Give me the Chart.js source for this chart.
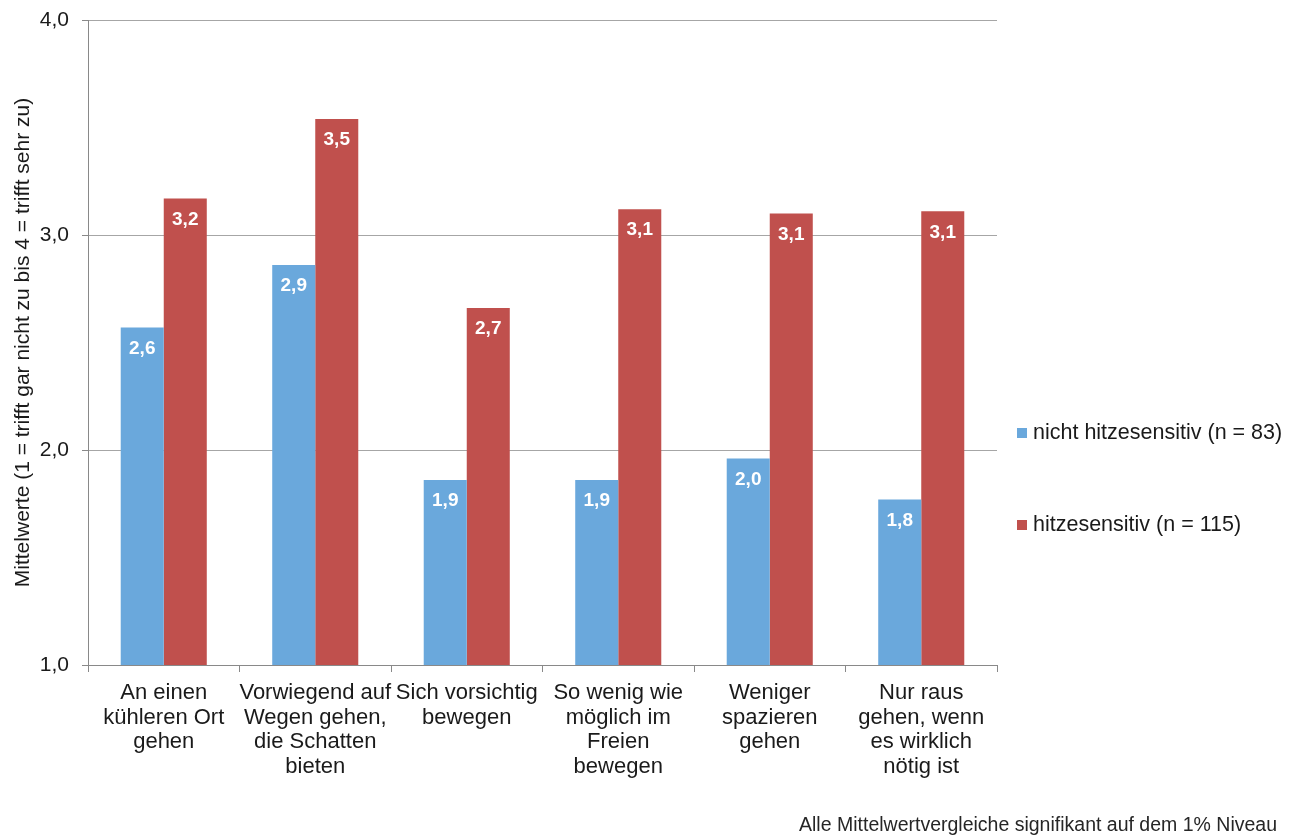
<!DOCTYPE html>
<html>
<head>
<meta charset="utf-8">
<script src="https://cdn.jsdelivr.net/npm/chart.js@4.4.0/dist/chart.umd.min.js"></script>
<style>
html,body{margin:0;padding:0;background:#fff;}
#wrap{width:1293px;height:837px;position:relative;}
</style>
</head>
<body>
<div id="wrap"><canvas id="c" width="1293" height="837"></canvas></div>
<script>
const categories = [
  ["An einen", "kühleren Ort", "gehen"],
  ["Vorwiegend auf", "Wegen gehen,", "die Schatten", "bieten"],
  ["Sich vorsichtig", "bewegen"],
  ["So wenig wie", "möglich im", "Freien", "bewegen"],
  ["Weniger", "spazieren", "gehen"],
  ["Nur raus", "gehen, wenn", "es wirklich", "nötig ist"]
];
const seriesNames = ["nicht hitzesensitiv (n = 83)", "hitzesensitiv (n = 115)"];
const nichtSensitiv = [2.57, 2.86, 1.86, 1.86, 1.96, 1.77];
const sensitiv = [3.17, 3.54, 2.66, 3.12, 3.10, 3.11];
const yTicks = [1, 2, 3, 4];
const yTitle = "Mittelwerte (1 = trifft gar nicht zu bis 4 = trifft sehr zu)";
const footnote = "Alle Mittelwertvergleiche signifikant auf dem 1% Niveau";
const colors = ["#6aa8dc", "#c0504d"];

const FONT = "'Liberation Sans', Arial, Helvetica, sans-serif";
const fmt = v => v.toFixed(1).replace('.', ',');

const extras = {
  id: 'extras',
  afterDatasetsDraw(chart) {
    const ctx = chart.ctx;
    ctx.save();
    ctx.font = "bold 19px " + FONT;
    ctx.fillStyle = "#ffffff";
    ctx.textAlign = "center";
    ctx.textBaseline = "middle";
    chart.data.datasets.forEach((ds, i) => {
      chart.getDatasetMeta(i).data.forEach((bar, j) => {
        ctx.fillText(fmt(ds.data[j]), bar.x, bar.y + 21);
      });
    });
    ctx.restore();
  },
  afterDraw(chart) {
    const ctx = chart.ctx;
    ctx.save();
    // legend
    ctx.font = "21.5px " + FONT;
    ctx.textBaseline = "middle";
    ctx.textAlign = "left";
    const ly = [433, 525];
    seriesNames.forEach((n, i) => {
      ctx.fillStyle = colors[i];
      ctx.fillRect(1017, ly[i] - 5, 10, 10);
      ctx.fillStyle = "#1a1a1a";
      ctx.fillText(n, 1033, ly[i]);
    });
    // footnote
    ctx.font = "19.5px " + FONT;
    ctx.textAlign = "right";
    ctx.fillStyle = "#262626";
    ctx.fillText(footnote, 1277, 826);
    ctx.restore();
  }
};

new Chart(document.getElementById('c'), {
  type: 'bar',
  data: {
    labels: categories,
    datasets: [
      { label: seriesNames[0], data: nichtSensitiv, backgroundColor: colors[0], borderWidth: 0 },
      { label: seriesNames[1], data: sensitiv, backgroundColor: colors[1], borderWidth: 0 }
    ]
  },
  plugins: [extras],
  options: {
    responsive: false,
    animation: false,
    devicePixelRatio: 1,
    layout: { padding: { left: 0, right: 296, top: 20, bottom: 0 } },
    plugins: { legend: { display: false }, tooltip: { enabled: false } },
    datasets: { bar: { categoryPercentage: 0.568, barPercentage: 1.0 } },
    scales: {
      x: {
        afterFit: s => { s.height = 172; },
        grid: { offset: true, drawOnChartArea: false, drawTicks: true, tickLength: 7, color: "#898989" },
        border: { color: "#898989", width: 1 },
        ticks: {
          color: "#1a1a1a",
          font: { family: FONT, size: 22, lineHeight: 1.114 },
          padding: 9,
          maxRotation: 0,
          autoSkip: false
        }
      },
      y: {
        min: 1, max: 4,
        afterFit: s => { s.width = 88; s.paddingTop = 0; s.paddingBottom = 0; },
        afterBuildTicks: s => { s.ticks = yTicks.map(v => ({ value: v })); },
        grid: { color: "#a6a6a6", tickLength: 6, drawTicks: true, tickColor: "#898989" },
        border: { color: "#898989", width: 1 },
        ticks: {
          color: "#1a1a1a",
          font: { family: FONT, size: 21 },
          padding: 13,
          callback: v => fmt(v)
        },
        title: {
          display: true,
          text: yTitle,
          color: "#1a1a1a",
          font: { family: FONT, size: 21 },
          padding: { top: 11, bottom: 0 }
        }
      }
    }
  }
});
</script>
</body>
</html>
